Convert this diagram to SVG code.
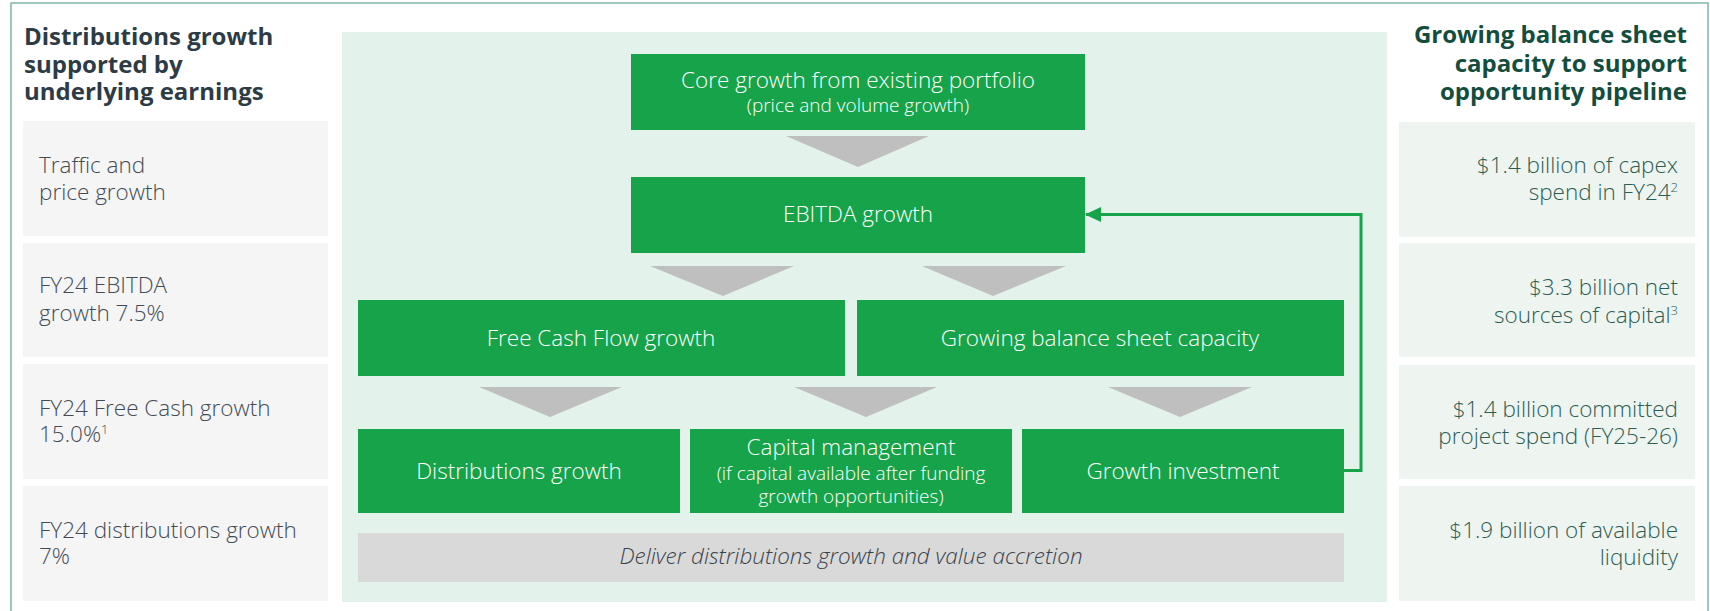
<svg xmlns="http://www.w3.org/2000/svg" width="1710" height="611" viewBox="0 0 1710 611">
<defs>
<style>
.frame{fill:none;stroke:#7fb5a8;stroke-width:1.5}
.lbox{fill:#f5f5f5}
.rbox{fill:#eef4f0}
.gbox{fill:#16a34a}
.tri{fill:#bfbfbf}
.bar{fill:#d9d9d9}
.lh{font-family:"Open Sans","Liberation Sans",sans-serif;font-weight:700;font-size:24px;fill:#2d3b45}
.rh{font-family:"Open Sans","Liberation Sans",sans-serif;font-weight:700;font-size:24px;fill:#124d3e;text-anchor:end}
.lt{font-family:"Open Sans","Liberation Sans",sans-serif;font-weight:300;font-size:22.5px;fill:#434c54}
.rt{font-family:"Open Sans","Liberation Sans",sans-serif;font-weight:300;font-size:22.5px;fill:#2b5e52;text-anchor:end}
.bt{font-family:"Open Sans","Liberation Sans",sans-serif;font-weight:300;font-size:22.5px;fill:#ffffff;text-anchor:middle}
.bs{font-family:"Open Sans","Liberation Sans",sans-serif;font-weight:300;font-size:19px;fill:#ffffff;text-anchor:middle}
.it{font-family:"Open Sans","Liberation Sans",sans-serif;font-weight:300;font-style:italic;font-size:22.5px;fill:#3a434c;text-anchor:middle}
.sup{font-size:13px}
.conn{fill:none;stroke:#16a34a;stroke-width:3}
</style>
<marker id="ah" markerWidth="16" markerHeight="15" refX="15" refY="7.5" orient="auto" markerUnits="userSpaceOnUse">
<path d="M0,0 L16,7.5 L0,15 Z" fill="#16a34a"/>
</marker>
</defs>
<rect x="0" y="0" width="1710" height="611" fill="#ffffff"/>
<rect class="frame" x="11" y="3" width="1697" height="620"/>

<g id="left-panel">
<text class="lh" x="24" y="45">Distributions growth</text>
<text class="lh" x="24" y="73">supported by</text>
<text class="lh" x="24" y="100">underlying earnings</text>
<g id="l1"><rect class="lbox" x="23" y="121" width="305" height="115"/>
<text class="lt" x="39" y="173">Traffic and</text><text class="lt" x="39" y="200">price growth</text></g>
<g id="l2"><rect class="lbox" x="23" y="243" width="305" height="114"/>
<text class="lt" x="39" y="293">FY24 EBITDA</text><text class="lt" x="39" y="321">growth 7.5%</text></g>
<g id="l3"><rect class="lbox" x="23" y="364" width="305" height="115"/>
<text class="lt" x="39" y="416">FY24 Free Cash growth</text><text class="lt" x="39" y="442">15.0%<tspan class="sup" dy="-8">1</tspan></text></g>
<g id="l4"><rect class="lbox" x="23" y="486" width="305" height="115"/>
<text class="lt" x="39" y="538">FY24 distributions growth</text><text class="lt" x="39" y="564">7%</text></g>
</g>

<g id="right-panel">
<text class="rh" x="1687" y="43">Growing balance sheet</text>
<text class="rh" x="1687" y="72">capacity to support</text>
<text class="rh" x="1687" y="100">opportunity pipeline</text>
<g id="r1"><rect class="rbox" x="1399" y="122" width="296" height="115"/>
<text class="rt" x="1678" y="173">$1.4 billion of capex</text><text class="rt" x="1678" y="200">spend in FY24<tspan class="sup" dy="-8">2</tspan></text></g>
<g id="r2"><rect class="rbox" x="1399" y="243" width="296" height="114"/>
<text class="rt" x="1678" y="295">$3.3 billion net</text><text class="rt" x="1678" y="323">sources of capital<tspan class="sup" dy="-8">3</tspan></text></g>
<g id="r3"><rect class="rbox" x="1399" y="365" width="296" height="114"/>
<text class="rt" x="1678" y="417">$1.4 billion committed</text><text class="rt" x="1678" y="444">project spend (FY25-26)</text></g>
<g id="r4"><rect class="rbox" x="1399" y="486" width="296" height="115"/>
<text class="rt" x="1678" y="538">$1.9 billion of available</text><text class="rt" x="1678" y="565">liquidity</text></g>
</g>

<rect id="center-bg" x="342" y="32" width="1045" height="570" fill="#e3f2eb"/>

<g id="arrows">
<polygon class="tri" points="786,136 929,136 858,167"/>
<polygon class="tri" points="650,266 794,266 723,296"/>
<polygon class="tri" points="922,266 1066,266 993,296"/>
<polygon class="tri" points="479,387 622,387 550,417"/>
<polygon class="tri" points="794,387 937,387 866,417"/>
<polygon class="tri" points="1108,387 1252,387 1180,417"/>
</g>

<g id="core"><rect class="gbox" x="631" y="54" width="454" height="76"/>
<text class="bt" x="858" y="88">Core growth from existing portfolio</text>
<text class="bs" x="858" y="112">(price and volume growth)</text></g>
<g id="ebitda"><rect class="gbox" x="631" y="177" width="454" height="76"/>
<text class="bt" x="858" y="222">EBITDA growth</text></g>
<g id="fcf"><rect class="gbox" x="358" y="300" width="487" height="76"/>
<text class="bt" x="601" y="346">Free Cash Flow growth</text></g>
<g id="gbsc"><rect class="gbox" x="857" y="300" width="487" height="76"/>
<text class="bt" x="1100" y="346">Growing balance sheet capacity</text></g>
<g id="dist"><rect class="gbox" x="358" y="429" width="322" height="84"/>
<text class="bt" x="519" y="479">Distributions growth</text></g>
<g id="capm"><rect class="gbox" x="690" y="429" width="322" height="84"/>
<text class="bt" x="851" y="455">Capital management</text>
<text class="bs" x="851" y="480">(if capital available after funding</text>
<text class="bs" x="851" y="503">growth opportunities)</text></g>
<g id="ginv"><rect class="gbox" x="1022" y="429" width="322" height="84"/>
<text class="bt" x="1183" y="479">Growth investment</text></g>
<g id="deliver"><rect class="bar" x="358" y="533" width="986" height="49"/>
<text class="it" x="851" y="564">Deliver distributions growth and value accretion</text></g>

<g id="connectors">
<path class="conn" d="M1344,470.5 H1361 V214.5 H1086" marker-end="url(#ah)"/>
</g>
</svg>
